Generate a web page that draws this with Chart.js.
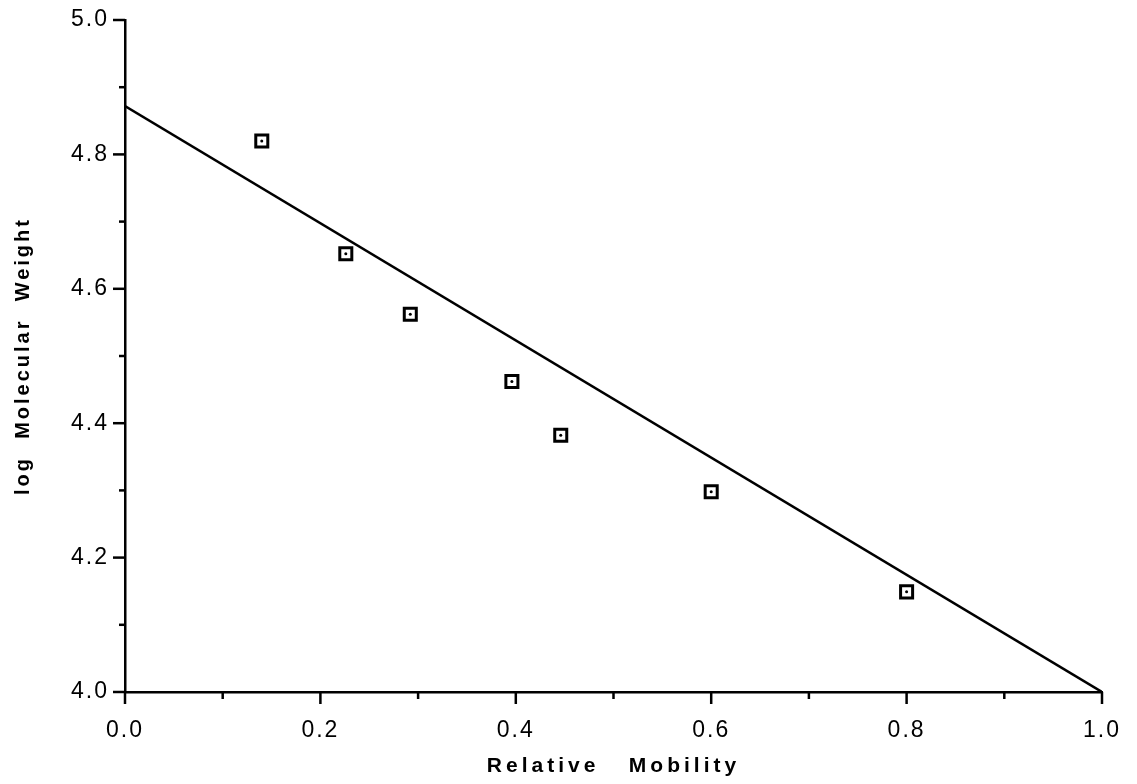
<!DOCTYPE html>
<html>
<head>
<meta charset="utf-8">
<script src="https://cdn.jsdelivr.net/npm/chart.js@4.4.1/dist/chart.umd.min.js"></script>
<style>
  html, body { margin: 0; padding: 0; background: #fff; }
  #wrap { width: 1137px; height: 784px; }
</style>
</head>
<body>
<div id="wrap"><canvas id="mwChart"></canvas></div>
<script>
'use strict';

// Messwerte: relative Mobilitaet vs. log Molekulargewicht
const mobility = [0.14, 0.226, 0.292, 0.396, 0.446, 0.6, 0.8];
const logWeight = [4.82, 4.652, 4.562, 4.462, 4.382, 4.298, 4.149];

// Regressionsgerade (Endpunkte)
const fitX = [0.0, 1.0];
const fitY = [4.872, 4.0];

const xTicks = [0.0, 0.2, 0.4, 0.6, 0.8, 1.0];
const yTicks = [4.0, 4.2, 4.4, 4.6, 4.8, 5.0];

const FONT = "'Liberation Sans', Arial, Helvetica, sans-serif";
const TICK_SPACING = '2px';
const TITLE_SPACING = { x: '4px', y: '3px' };

const isMajor = (v, list) => list.some(t => Math.abs(t - v) < 1e-6);

// Achsen-Striche selbst zeichnen (lang = beschriftet, kurz = Zwischenstrich)
const tickMarks = {
  id: 'tickMarks',
  afterDraw(chart) {
    const ctx = chart.ctx;
    const { x, y } = chart.scales;
    ctx.save();
    ctx.strokeStyle = '#000';
    ctx.lineWidth = 2.5;
    x.ticks.forEach(t => {
      const px = x.getPixelForValue(t.value);
      const len = isMajor(t.value, xTicks) ? 12 : 7;
      ctx.beginPath();
      ctx.moveTo(px, x.top);
      ctx.lineTo(px, x.top + len);
      ctx.stroke();
    });
    y.ticks.forEach(t => {
      const py = y.getPixelForValue(t.value);
      const len = isMajor(t.value, yTicks) ? 12 : 6;
      ctx.beginPath();
      ctx.moveTo(y.right, py);
      ctx.lineTo(y.right - len, py);
      ctx.stroke();
    });
    ctx.restore();
  },
};

// breitere Buchstabenabstaende wie im Original
const spacing = {
  id: 'spacing',
  beforeUpdate(chart) {
    chart.ctx.letterSpacing = TICK_SPACING;
  },
  beforeDraw(chart) {
    chart.ctx.letterSpacing = TICK_SPACING;
    Object.values(chart.scales).forEach(scale => {
      if (scale._wrappedTitle) return;
      const orig = scale.drawTitle;
      scale.drawTitle = function () {
        this.ctx.letterSpacing = TITLE_SPACING[this.id] || TICK_SPACING;
        orig.apply(this, arguments);
        this.ctx.letterSpacing = TICK_SPACING;
      };
      scale._wrappedTitle = true;
    });
  },
};

const ctx = document.getElementById('mwChart').getContext('2d');
new Chart(ctx, {
  type: 'scatter',
  data: {
    datasets: [
      {
        label: 'Fit',
        type: 'line',
        data: fitX.map((v, i) => ({ x: v, y: fitY[i] })),
        borderColor: '#000',
        borderWidth: 2.5,
        pointRadius: 0,
        fill: false,
        order: 3,
      },
      {
        label: 'Standards',
        data: mobility.map((v, i) => ({ x: v, y: logWeight[i] })),
        pointStyle: 'rect',
        pointRadius: 8.5,
        pointBorderWidth: 3,
        pointBorderColor: '#000',
        pointBackgroundColor: '#fff',
        order: 2,
      },
      {
        label: 'Mitte',
        data: mobility.map((v, i) => ({ x: v, y: logWeight[i] })),
        pointStyle: 'circle',
        pointRadius: 1.5,
        pointBorderWidth: 0,
        pointBackgroundColor: '#000',
        order: 1,
      },
    ],
  },
  options: {
    responsive: true,
    maintainAspectRatio: false,
    animation: false,
    layout: { padding: { left: 0, right: 35, top: 20, bottom: 0 } },
    plugins: {
      legend: { display: false },
      tooltip: { enabled: false },
    },
    scales: {
      x: {
        type: 'linear',
        min: 0,
        max: 1,
        afterFit: scale => {
          scale.height = 92;
          scale.paddingLeft = 0;
          scale.paddingRight = 0;
        },
        grid: { display: true, drawOnChartArea: false, drawTicks: false },
        border: { color: '#000', width: 2.5 },
        ticks: {
          stepSize: 0.1,
          padding: 25,
          color: '#000',
          font: { family: FONT, size: 23 },
          autoSkip: false,
          maxRotation: 0,
          callback: v => (isMajor(v, xTicks) ? v.toFixed(1) : ''),
        },
        title: {
          display: true,
          text: 'Relative   Mobility',
          color: '#000',
          font: { family: FONT, size: 21, weight: 'bold' },
          padding: { top: 2, bottom: 5 },
        },
      },
      y: {
        type: 'linear',
        min: 4,
        max: 5,
        afterFit: scale => {
          scale.width = 125;
          scale.paddingTop = 0;
          scale.paddingBottom = 0;
        },
        grid: { display: true, drawOnChartArea: false, drawTicks: false },
        border: { color: '#000', width: 2.5 },
        ticks: {
          stepSize: 0.1,
          padding: 16,
          color: '#000',
          font: { family: FONT, size: 23 },
          autoSkip: false,
          callback: v => (isMajor(v, yTicks) ? v.toFixed(1) : ''),
        },
        title: {
          display: true,
          text: 'log  Molecular  Weight',
          color: '#000',
          font: { family: FONT, size: 20, weight: 'bold' },
          padding: { top: 11, bottom: 0 },
        },
      },
    },
  },
  plugins: [spacing, tickMarks],
});
</script>
</body>
</html>
